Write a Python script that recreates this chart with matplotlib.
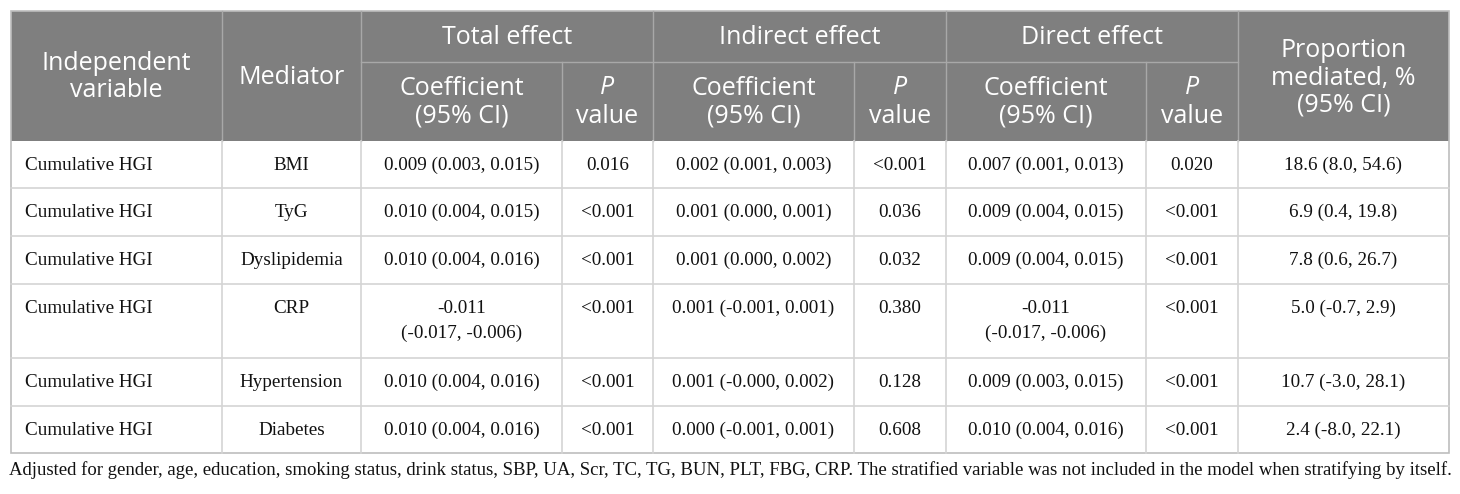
"""
Mediation analysis table (cumulative HGI) redrawn as a matplotlib figure.
"""
import matplotlib
matplotlib.use("Agg")
import matplotlib.pyplot as plt
from matplotlib.patches import Rectangle

# Table content
independent = ["Cumulative HGI"] * 6
mediators = ["BMI", "TyG", "Dyslipidemia", "CRP", "Hypertension", "Diabetes"]
total_coef = ["0.009 (0.003, 0.015)", "0.010 (0.004, 0.015)", "0.010 (0.004, 0.016)",
              "-0.011\n(-0.017, -0.006)", "0.010 (0.004, 0.016)", "0.010 (0.004, 0.016)"]
total_p = ["0.016", "<0.001", "<0.001", "<0.001", "<0.001", "<0.001"]
indirect_coef = ["0.002 (0.001, 0.003)", "0.001 (0.000, 0.001)", "0.001 (0.000, 0.002)",
                 "0.001 (-0.001, 0.001)", "0.001 (-0.000, 0.002)", "0.000 (-0.001, 0.001)"]
indirect_p = ["<0.001", "0.036", "0.032", "0.380", "0.128", "0.608"]
direct_coef = ["0.007 (0.001, 0.013)", "0.009 (0.004, 0.015)", "0.009 (0.004, 0.015)",
               "-0.011\n(-0.017, -0.006)", "0.009 (0.003, 0.015)", "0.010 (0.004, 0.016)"]
direct_p = ["0.020", "<0.001", "<0.001", "<0.001", "<0.001", "<0.001"]
proportion = ["18.6 (8.0, 54.6)", "6.9 (0.4, 19.8)", "7.8 (0.6, 26.7)", "5.0 (-0.7, 2.9)",
              "10.7 (-3.0, 28.1)", "2.4 (-8.0, 22.1)"]

group_headers = ["Total effect", "Indirect effect", "Direct effect"]
footnote = ("Adjusted for gender, age, education, smoking status, drink status, SBP, UA, Scr, "
            "TC, TG, BUN, PLT, FBG, CRP. The stratified variable was not included in the model "
            "when stratifying by itself.")

# Layout in pixels (figure is 1460 x 494)
W, H = 1460, 494
col_x = [11, 222, 361, 562, 653, 854, 946, 1146, 1238, 1449]
top, mid, head_bot = 11, 62, 141
row_y = [141, 188, 236, 284, 358, 406, 453]

HEAD_BG = "#7f7f7f"
HEAD_LINE = "#a8a8a8"
BODY_LINE = "#d4d4d4"
HEAD_FONT = "Open Sans"
BODY_FONT = "Liberation Serif"
HFS = 18
BFS = 13.8
FFS = 13.5

fig = plt.figure(figsize=(W / 100, H / 100), dpi=100)
ax = fig.add_axes([0, 0, 1, 1])
ax.set_xlim(0, W)
ax.set_ylim(H, 0)
ax.axis("off")

# header background
ax.add_patch(Rectangle((col_x[0], top), col_x[-1] - col_x[0], head_bot - top,
                       facecolor=HEAD_BG, edgecolor="none"))

# header grid
ax.plot([col_x[2], col_x[8]], [mid, mid], color=HEAD_LINE, lw=1)
for i in range(1, 9):
    y0 = top if i in (1, 2, 4, 6, 8) else mid
    ax.plot([col_x[i], col_x[i]], [y0, head_bot], color=HEAD_LINE, lw=1)

# body grid
for y in row_y[1:-1]:
    ax.plot([col_x[0], col_x[-1]], [y, y], color=BODY_LINE, lw=1.2)
for x in col_x[1:-1]:
    ax.plot([x, x], [head_bot, row_y[-1]], color=BODY_LINE, lw=1.2)
ax.add_patch(Rectangle((col_x[0], top), col_x[-1] - col_x[0], row_y[-1] - top,
                       facecolor="none", edgecolor="#bdbdbd", lw=1.2))


def htext(x, y, s, **kw):
    ax.text(x, y, s, ha="center", va="center", color="white", fontsize=HFS,
            family=HEAD_FONT, linespacing=1.12, **kw)


cx = [(col_x[i] + col_x[i + 1]) / 2 for i in range(len(col_x) - 1)]
htext(cx[0], 77, "Independent\nvariable")
htext(cx[1], 77, "Mediator")
htext(cx[8], 78, "Proportion\nmediated, %\n(95% CI)")
for k, name in enumerate(group_headers):
    htext((col_x[2 + 2 * k] + col_x[4 + 2 * k]) / 2, 37, name)
    htext(cx[2 + 2 * k], 102, "Coefficient\n(95% CI)")
    htext(cx[3 + 2 * k], 88, "P", style="italic")
    htext(cx[3 + 2 * k], 116, "value")

# body rows
columns = [independent, mediators, total_coef, total_p, indirect_coef, indirect_p,
           direct_coef, direct_p, proportion]
for r in range(len(mediators)):
    y = row_y[r] + 24
    for c, col in enumerate(columns):
        for j, line in enumerate(col[r].split("\n")):
            if c == 0:
                ax.text(col_x[0] + 14, y + 25 * j, line, ha="left", va="center",
                        fontsize=BFS, family=BODY_FONT, color="#111111")
            else:
                ax.text(cx[c], y + 25 * j, line, ha="center", va="center",
                        fontsize=BFS, family=BODY_FONT, color="#111111")

ax.text(col_x[0] - 2, 470, footnote, ha="left", va="center", fontsize=FFS,
        family=BODY_FONT, color="#111111")

fig.savefig("out.png", dpi=100)
